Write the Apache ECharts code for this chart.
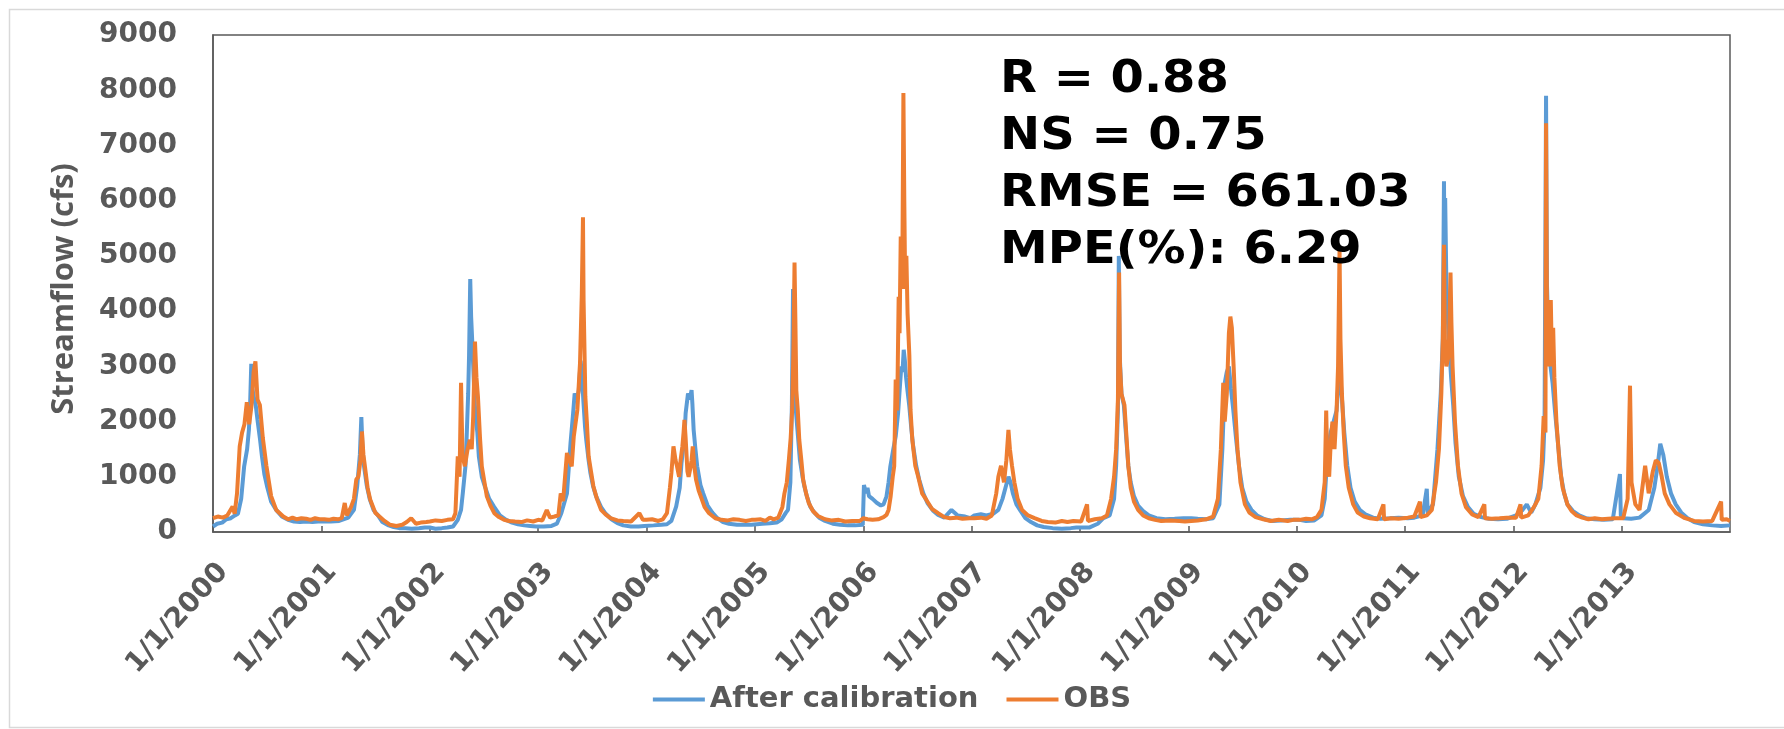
<!DOCTYPE html>
<html>
<head>
<meta charset="utf-8">
<script src="https://cdn.jsdelivr.net/npm/echarts@6/dist/echarts.min.js"></script>
<style>
html,body{margin:0;padding:0;background:#fff;}
#chart{width:1784px;height:729px;}
</style>
</head>
<body>
<div id="chart"></div>
<script>
// ---- Data ----
const seriesNames = ['After calibration', 'OBS'];
const yTicks = [0, 1000, 2000, 3000, 4000, 5000, 6000, 7000, 8000, 9000];
const yTitle = 'Streamflow (cfs)';
const statsLines = ['R = 0.88', 'NS = 0.75', 'RMSE = 661.03', 'MPE(%): 6.29'];

const afterCalibration = [
['2000-01-01',100],['2000-01-15',150],['2000-02-01',170],['2000-02-15',230],['2000-03-01',250],['2000-03-15',300],['2000-03-25',330],['2000-04-05',600],['2000-04-15',1190],['2000-04-25',1500],['2000-05-01',1850],['2000-05-05',2300],['2000-05-09',3045],['2000-05-13',2600],['2000-05-17',2450],['2000-05-24',2300],['2000-05-30',2030],['2000-06-07',1700],['2000-06-14',1370],['2000-06-22',1050],['2000-07-01',830],['2000-07-15',550],['2000-08-01',400],['2000-08-20',280],['2000-09-10',220],['2000-09-30',190],['2000-10-20',180],['2000-11-10',190],['2000-12-01',180],['2000-12-20',190],
['2001-01-10',190],['2001-02-01',190],['2001-03-01',200],['2001-04-01',260],['2001-04-20',400],['2001-05-01',830],['2001-05-10',1400],['2001-05-15',2080],['2001-05-19',1500],['2001-05-24',1190],['2001-06-02',850],['2001-06-12',600],['2001-06-25',400],['2001-07-10',300],['2001-07-25',180],['2001-08-15',120],['2001-09-01',90],['2001-09-20',70],['2001-10-10',70],['2001-11-01',60],['2001-11-25',70],['2001-12-15',80],
['2002-01-01',80],['2002-01-20',60],['2002-02-10',70],['2002-03-01',80],['2002-03-20',100],['2002-04-05',220],['2002-04-16',400],['2002-04-22',705],['2002-05-01',1200],['2002-05-05',1730],['2002-05-10',2500],['2002-05-13',3180],['2002-05-17',4580],['2002-05-20',3900],['2002-05-24',3420],['2002-05-30',2600],['2002-06-03',2150],['2002-06-10',1800],['2002-06-15',1370],['2002-06-25',1000],['2002-07-05',830],['2002-07-20',600],['2002-08-05',460],['2002-08-25',300],['2002-09-15',220],['2002-10-05',170],['2002-10-25',140],['2002-11-15',120],['2002-12-05',110],['2002-12-25',100],
['2003-01-20',100],['2003-02-15',110],['2003-03-05',150],['2003-03-20',340],['2003-04-08',700],['2003-04-20',1610],['2003-04-28',2100],['2003-05-04',2510],['2003-05-12',2400],['2003-05-18',2570],['2003-05-24',3100],['2003-05-28',2900],['2003-06-02',2400],['2003-06-08',1900],['2003-06-12',1670],['2003-06-20',1300],['2003-06-26',1070],['2003-07-05',830],['2003-07-15',650],['2003-08-01',450],['2003-08-15',340],['2003-09-05',230],['2003-09-25',160],['2003-10-15',120],['2003-11-10',100],['2003-12-05',100],['2003-12-25',110],
['2004-01-25',120],['2004-02-20',130],['2004-03-10',140],['2004-03-25',200],['2004-04-10',460],['2004-04-22',800],['2004-04-28',1250],['2004-05-08',1700],['2004-05-12',2150],['2004-05-20',2510],['2004-05-26',2400],['2004-06-01',2570],['2004-06-04',2300],['2004-06-08',1850],['2004-06-14',1500],['2004-06-20',1190],['2004-07-01',850],['2004-07-10',705],['2004-07-25',480],['2004-08-10',350],['2004-08-25',260],['2004-09-15',180],['2004-10-05',150],['2004-11-01',130],['2004-11-25',130],['2004-12-20',130],
['2005-01-25',150],['2005-02-20',160],['2005-03-15',170],['2005-04-01',230],['2005-04-15',350],['2005-04-22',400],['2005-04-30',900],['2005-05-05',2270],['2005-05-09',4400],['2005-05-12',3000],['2005-05-17',2300],['2005-05-22',1970],['2005-06-01',1310],['2005-06-10',1000],['2005-06-16',830],['2005-06-25',640],['2005-07-06',460],['2005-07-20',350],['2005-08-05',260],['2005-08-25',200],['2005-09-20',150],['2005-10-15',130],['2005-11-10',120],['2005-12-05',120],['2005-12-30',130],
['2006-01-03',850],['2006-01-10',700],['2006-01-15',800],['2006-01-20',650],['2006-02-01',600],['2006-02-15',530],['2006-03-01',480],['2006-03-10',500],['2006-03-20',645],['2006-03-27',900],['2006-04-02',1190],['2006-04-12',1500],['2006-04-20',1730],['2006-04-28',2150],['2006-05-05',2700],['2006-05-09',3000],['2006-05-13',2900],['2006-05-17',3300],['2006-05-21',3100],['2006-05-25',2800],['2006-05-30',2550],['2006-06-05',2270],['2006-06-12',1850],['2006-06-18',1550],['2006-06-28',1200],['2006-07-08',950],['2006-07-22',700],['2006-08-05',525],['2006-08-25',380],['2006-09-10',310],['2006-10-01',260],['2006-10-25',400],['2006-11-15',300],['2006-12-10',280],['2006-12-28',250],
['2007-01-10',300],['2007-02-01',320],['2007-02-20',300],['2007-03-15',330],['2007-04-01',400],['2007-04-15',600],['2007-04-25',800],['2007-05-05',1000],['2007-05-12',900],['2007-05-20',700],['2007-06-01',500],['2007-06-15',380],['2007-07-01',250],['2007-07-20',180],['2007-08-10',120],['2007-09-01',90],['2007-10-01',70],['2007-11-01',60],['2007-12-01',70],['2007-12-20',80],
['2008-01-05',80],['2008-02-01',80],['2008-03-01',150],['2008-03-20',250],['2008-04-10',300],['2008-04-25',600],['2008-05-02',1200],['2008-05-08',2200],['2008-05-11',5000],['2008-05-14',3200],['2008-05-20',2500],['2008-05-28',2300],['2008-06-05',1700],['2008-06-12',1200],['2008-06-20',900],['2008-07-01',650],['2008-07-15',480],['2008-08-01',380],['2008-08-20',300],['2008-09-15',250],['2008-10-15',230],['2008-11-15',240],['2008-12-15',250],
['2009-01-10',250],['2009-02-01',240],['2009-03-01',230],['2009-03-25',250],['2009-04-15',500],['2009-04-25',1500],['2009-05-03',2700],['2009-05-10',2900],['2009-05-17',3000],['2009-05-24',2600],['2009-06-01',2200],['2009-06-10',1700],['2009-06-20',1200],['2009-07-01',800],['2009-07-15',550],['2009-08-01',400],['2009-08-20',300],['2009-09-15',230],['2009-10-10',200],['2009-11-10',210],['2009-12-10',220],
['2010-01-10',220],['2010-02-01',200],['2010-03-01',210],['2010-03-25',300],['2010-04-05',600],['2010-04-15',1500],['2010-04-25',1800],['2010-05-05',2000],['2010-05-15',2200],['2010-05-25',3000],['2010-06-01',2500],['2010-06-10',1800],['2010-06-20',1200],['2010-07-01',800],['2010-07-15',550],['2010-08-01',400],['2010-08-20',320],['2010-09-15',260],['2010-10-10',240],['2010-11-10',250],['2010-12-10',260],
['2011-01-10',250],['2011-02-01',260],['2011-03-01',300],['2011-03-15',780],['2011-03-18',350],['2011-04-05',500],['2011-04-20',1500],['2011-05-01',2500],['2011-05-08',3500],['2011-05-12',6350],['2011-05-14',4500],['2011-05-16',6050],['2011-05-20',4500],['2011-05-28',3500],['2011-06-05',2800],['2011-06-12',2300],['2011-06-20',1600],['2011-07-01',1000],['2011-07-15',650],['2011-08-01',450],['2011-08-20',330],['2011-09-15',270],['2011-10-10',240],['2011-11-10',230],['2011-12-10',240],
['2012-01-10',300],['2012-02-01',400],['2012-02-15',500],['2012-03-01',350],['2012-03-15',500],['2012-04-01',800],['2012-04-10',1300],['2012-04-15',2000],['2012-04-20',7900],['2012-04-23',4500],['2012-04-28',3500],['2012-05-05',3000],['2012-05-12',2700],['2012-05-20',2200],['2012-06-01',1500],['2012-06-10',1000],['2012-06-20',700],['2012-07-01',500],['2012-07-20',380],['2012-08-10',300],['2012-09-01',250],['2012-10-01',230],['2012-11-01',220],['2012-12-01',230],['2012-12-25',1050],['2012-12-28',300],
['2013-01-05',250],['2013-02-01',240],['2013-03-01',260],['2013-04-01',400],['2013-04-20',800],['2013-05-01',1200],['2013-05-10',1600],['2013-05-20',1400],['2013-06-01',1000],['2013-06-15',700],['2013-07-01',500],['2013-07-20',350],['2013-08-10',250],['2013-09-01',180],['2013-10-01',140],['2013-11-01',120],['2013-12-01',110],['2013-12-31',120]
];

const observed = [
['2000-01-01',250],['2000-01-17',280],['2000-02-03',260],['2000-02-18',300],['2000-03-07',460],['2000-03-14',330],['2000-03-22',700],['2000-03-31',1550],['2000-04-08',1800],['2000-04-16',1950],['2000-04-24',2350],['2000-05-02',1950],['2000-05-10',2300],['2000-05-17',2900],['2000-05-23',3090],['2000-05-30',2400],['2000-06-07',2300],['2000-06-17',1700],['2000-06-29',1200],['2000-07-15',650],['2000-08-01',400],['2000-08-25',280],['2000-09-10',230],['2000-09-25',260],['2000-10-10',230],['2000-10-25',250],['2000-11-10',240],['2000-11-25',220],['2000-12-10',250],['2000-12-25',230],
['2001-01-10',230],['2001-01-25',220],['2001-02-10',240],['2001-02-25',230],['2001-03-10',250],['2001-03-20',525],['2001-03-27',300],['2001-04-10',450],['2001-04-20',600],['2001-04-28',950],['2001-05-05',1000],['2001-05-12',1300],['2001-05-17',1820],['2001-05-22',1400],['2001-05-27',1190],['2001-06-05',800],['2001-06-14',585],['2001-07-01',350],['2001-07-15',280],['2001-08-01',200],['2001-08-20',130],['2001-09-10',110],['2001-09-30',130],['2001-10-15',180],['2001-10-30',250],['2001-11-15',150],['2001-12-01',170],['2001-12-20',180],
['2002-01-01',190],['2002-01-20',210],['2002-02-10',200],['2002-03-01',220],['2002-03-20',230],['2002-03-28',340],['2002-04-05',1370],['2002-04-11',1000],['2002-04-16',2700],['2002-04-21',1370],['2002-04-29',1190],['2002-05-08',1500],['2002-05-16',1670],['2002-05-22',1500],['2002-05-27',2090],['2002-06-02',3450],['2002-06-07',2800],['2002-06-12',2450],['2002-06-19',1700],['2002-06-25',1190],['2002-07-04',900],['2002-07-12',645],['2002-07-24',480],['2002-08-06',340],['2002-08-22',270],['2002-09-08',220],['2002-09-25',200],['2002-10-15',190],['2002-11-05',180],['2002-11-25',210],['2002-12-15',190],
['2003-01-01',220],['2003-01-15',210],['2003-01-30',400],['2003-02-10',260],['2003-02-25',280],['2003-03-10',300],['2003-03-18',700],['2003-03-26',560],['2003-04-08',1430],['2003-04-16',1300],['2003-04-24',1190],['2003-05-01',1730],['2003-05-13',2210],['2003-05-22',3060],['2003-05-28',4300],['2003-06-01',5700],['2003-06-03',4200],['2003-06-09',2450],['2003-06-14',2000],['2003-06-20',1370],['2003-06-28',1100],['2003-07-06',830],['2003-07-18',600],['2003-08-01',400],['2003-08-16',320],['2003-09-02',250],['2003-09-25',210],['2003-10-15',200],['2003-11-10',190],['2003-12-08',340],['2003-12-20',220],
['2004-01-01',220],['2004-01-20',230],['2004-02-10',200],['2004-02-25',230],['2004-03-10',340],['2004-03-20',800],['2004-03-25',1070],['2004-04-01',1550],['2004-04-08',1300],['2004-04-13',1190],['2004-04-20',1000],['2004-04-25',1300],['2004-05-01',1550],['2004-05-05',1800],['2004-05-08',2030],['2004-05-12',1700],['2004-05-18',1100],['2004-05-22',1000],['2004-05-27',1130],['2004-06-01',1300],['2004-06-05',1550],['2004-06-10',1200],['2004-06-16',950],['2004-06-25',750],['2004-07-02',645],['2004-07-15',450],['2004-07-30',340],['2004-08-20',250],['2004-09-10',220],['2004-10-01',210],['2004-10-20',230],['2004-11-10',220],['2004-12-01',200],['2004-12-20',220],
['2005-01-01',220],['2005-01-20',230],['2005-02-05',200],['2005-02-20',260],['2005-03-05',230],['2005-03-20',260],['2005-04-03',450],['2005-04-10',700],['2005-04-18',900],['2005-04-25',1310],['2005-05-01',1700],['2005-05-06',2210],['2005-05-11',3500],['2005-05-14',4880],['2005-05-17',3800],['2005-05-20',2570],['2005-05-25',2200],['2005-05-30',1670],['2005-06-06',1300],['2005-06-12',950],['2005-06-22',700],['2005-07-01',525],['2005-07-15',380],['2005-08-01',290],['2005-08-25',230],['2005-09-15',210],['2005-10-10',220],['2005-11-01',190],['2005-11-25',200],['2005-12-20',200],
['2006-01-01',250],['2006-01-15',230],['2006-02-01',220],['2006-02-20',230],['2006-03-10',270],['2006-03-20',310],['2006-03-27',400],['2006-04-03',645],['2006-04-10',1000],['2006-04-15',1190],['2006-04-20',2760],['2006-04-25',2200],['2006-04-30',4260],['2006-05-03',3600],['2006-05-07',5350],['2006-05-10',4400],['2006-05-13',5300],['2006-05-16',7950],['2006-05-19',6000],['2006-05-22',4400],['2006-05-26',5000],['2006-05-30',3960],['2006-06-05',3200],['2006-06-09',2210],['2006-06-15',1670],['2006-06-25',1200],['2006-07-05',1000],['2006-07-18',700],['2006-08-01',585],['2006-08-20',420],['2006-09-10',340],['2006-10-01',270],['2006-10-20',250],['2006-11-10',260],['2006-12-01',240],['2006-12-25',250],
['2007-01-10',250],['2007-02-01',260],['2007-02-20',240],['2007-03-10',300],['2007-03-25',700],['2007-04-01',1000],['2007-04-10',1200],['2007-04-20',900],['2007-04-28',1300],['2007-05-05',1850],['2007-05-10',1500],['2007-05-17',1200],['2007-05-25',900],['2007-06-05',600],['2007-06-20',400],['2007-07-10',300],['2007-08-01',250],['2007-08-25',200],['2007-09-15',180],['2007-10-10',170],['2007-11-01',200],['2007-11-20',180],['2007-12-10',200],
['2008-01-05',190],['2008-01-25',500],['2008-01-28',200],['2008-02-20',230],['2008-03-15',250],['2008-04-01',300],['2008-04-15',600],['2008-04-25',1000],['2008-05-02',1500],['2008-05-08',2400],['2008-05-12',4700],['2008-05-15',3000],['2008-05-20',2500],['2008-05-25',2400],['2008-05-30',2300],['2008-06-05',1800],['2008-06-12',1200],['2008-06-20',800],['2008-07-01',550],['2008-07-15',400],['2008-08-01',300],['2008-08-20',250],['2008-09-10',220],['2008-10-01',200],['2008-11-01',210],['2008-12-01',200],['2008-12-20',190],
['2009-01-10',200],['2009-02-01',210],['2009-03-01',230],['2009-03-25',280],['2009-04-10',600],['2009-04-20',1500],['2009-04-28',2700],['2009-05-03',2000],['2009-05-10',2500],['2009-05-17',3600],['2009-05-22',3900],['2009-05-27',3700],['2009-06-02',3000],['2009-06-08',2200],['2009-06-15',1500],['2009-06-25',900],['2009-07-10',500],['2009-07-25',350],['2009-08-15',270],['2009-09-10',230],['2009-10-05',200],['2009-11-01',220],['2009-12-01',200],['2009-12-20',220],
['2010-01-10',220],['2010-02-01',240],['2010-02-20',230],['2010-03-10',270],['2010-03-25',400],['2010-04-05',900],['2010-04-10',2200],['2010-04-14',1200],['2010-04-20',1000],['2010-04-25',1600],['2010-05-01',2000],['2010-05-08',1500],['2010-05-15',2200],['2010-05-20',3000],['2010-05-25',5100],['2010-05-28',3500],['2010-06-02',2500],['2010-06-08',1800],['2010-06-15',1200],['2010-06-25',800],['2010-07-10',500],['2010-07-25',350],['2010-08-15',280],['2010-09-05',250],['2010-10-01',230],['2010-10-20',500],['2010-10-22',230],['2010-11-15',250],['2010-12-10',240],
['2011-01-10',260],['2011-02-01',280],['2011-02-20',550],['2011-02-22',270],['2011-03-15',300],['2011-04-01',400],['2011-04-15',900],['2011-04-25',1500],['2011-05-03',2500],['2011-05-08',3500],['2011-05-12',5200],['2011-05-15',3500],['2011-05-20',3000],['2011-05-28',3200],['2011-06-03',4700],['2011-06-06',3800],['2011-06-10',3000],['2011-06-18',2000],['2011-06-28',1200],['2011-07-10',700],['2011-07-25',450],['2011-08-15',320],['2011-09-05',270],['2011-09-25',500],['2011-09-27',250],['2011-10-20',240],['2011-11-15',250],['2011-12-10',260],
['2012-01-10',260],['2012-01-25',500],['2012-01-27',260],['2012-02-20',300],['2012-03-10',450],['2012-03-25',600],['2012-04-05',1200],['2012-04-12',2100],['2012-04-18',1800],['2012-04-20',7400],['2012-04-23',4000],['2012-05-01',3000],['2012-05-06',4200],['2012-05-10',3000],['2012-05-14',3700],['2012-05-18',2800],['2012-05-25',2000],['2012-06-05',1200],['2012-06-15',800],['2012-07-01',500],['2012-07-15',380],['2012-08-01',300],['2012-08-20',260],['2012-09-10',230],['2012-10-01',250],['2012-10-25',230],['2012-11-15',240],['2012-12-10',250],
['2013-01-05',250],['2013-01-20',600],['2013-01-28',2650],['2013-02-02',900],['2013-02-15',500],['2013-03-01',400],['2013-03-20',1200],['2013-04-01',700],['2013-04-15',1100],['2013-04-25',1300],['2013-05-05',1250],['2013-05-15',1000],['2013-05-25',700],['2013-06-10',500],['2013-07-01',350],['2013-08-01',250],['2013-09-01',200],['2013-10-01',190],['2013-11-01',200],['2013-12-01',550],['2013-12-03',220],['2013-12-20',230],['2013-12-31',200]
];

// ---- Chart ----
const DAY = 86400000;
const chart = echarts.init(document.getElementById('chart'));
const grey = '#595959';
const axisFont = '"DejaVu Sans", "Open Sans", sans-serif';

chart.setOption({
  animation: false,
  backgroundColor: '#ffffff',
  grid: {
    left: 213, right: 54, top: 35, bottom: 197,
    show: true, borderColor: grey, borderWidth: 1.5, backgroundColor: 'transparent'
  },
  legend: {
    bottom: 10,
    left: 'center',
    itemWidth: 52,
    itemHeight: 4,
    itemGap: 28,
    icon: 'rect',
    textStyle: { color: grey, fontFamily: axisFont, fontWeight: 'bold', fontSize: 29 },
    data: seriesNames
  },
  xAxis: {
    type: 'time',
    min: new Date(2000, 0, 1).getTime(),
    max: new Date(2013, 11, 31).getTime(),
    minInterval: 365 * DAY,
    maxInterval: 366 * DAY,
    axisLine: { show: true, lineStyle: { color: grey, width: 1.5 } },
    axisTick: { show: true, inside: true, length: 6, lineStyle: { color: grey, width: 1.5 } },
    splitLine: { show: false },
    axisLabel: {
      rotate: 48,
      margin: 26,
      align: 'right',
      verticalAlign: 'top',
      color: grey,
      fontFamily: axisFont,
      fontWeight: 'bold',
      fontSize: 28,
      hideOverlap: false,
      formatter: function (val) {
        const d = new Date(val);
        return (d.getMonth() + 1) + '/' + d.getDate() + '/' + d.getFullYear();
      }
    }
  },
  yAxis: {
    type: 'value',
    min: yTicks[0],
    max: yTicks[yTicks.length - 1],
    interval: yTicks[1] - yTicks[0],
    axisLine: { show: true, lineStyle: { color: grey, width: 1.5 } },
    axisTick: { show: false },
    splitLine: { show: false },
    axisLabel: {
      margin: 36,
      color: grey,
      fontFamily: axisFont,
      fontWeight: 'bold',
      fontSize: 28,
      formatter: function (v) { return String(v); }
    }
  },
  series: [
    {
      name: seriesNames[0], type: 'line', data: afterCalibration,
      showSymbol: false, symbol: 'none', smooth: false,
      lineStyle: { color: '#5B9BD5', width: 4 }, itemStyle: { color: '#5B9BD5' }, z: 2
    },
    {
      name: seriesNames[1], type: 'line', data: observed,
      showSymbol: false, symbol: 'none', smooth: false,
      lineStyle: { color: '#ED7D31', width: 4 }, itemStyle: { color: '#ED7D31' }, z: 3
    }
  ],
  graphic: [
    {
      type: 'rect', left: 7, top: 7, z: -10, silent: true,
      shape: { width: 1800, height: 718 },
      style: { fill: 'none', stroke: '#d9d9d9', lineWidth: 1.5 }
    },
    {
      type: 'text', x: 64, y: 289, rotation: Math.PI / 2, z: 50, silent: true,
      style: {
        text: yTitle,
        font: 'bold 31px "Open Sans", sans-serif',
        fill: grey,
        align: 'center',
        verticalAlign: 'middle'
      }
    },
    {
      type: 'text', x: 1000, y: 52, scaleX: 1.09, z: 100, silent: true,
      style: {
        text: statsLines.join('\n'),
        font: 'bold 44px "DejaVu Sans", sans-serif',
        fill: '#000000',
        lineHeight: 57
      }
    }
  ]
});
</script>
</body>
</html>
